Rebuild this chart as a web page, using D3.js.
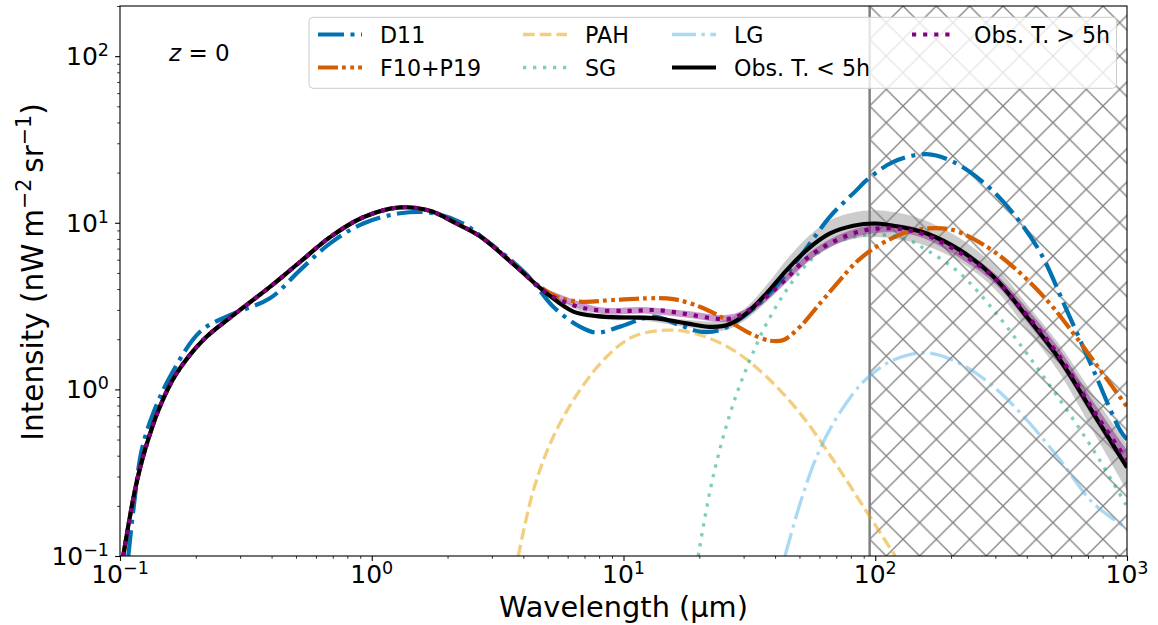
<!DOCTYPE html>
<html><head><meta charset="utf-8">
<script src="https://cdn.jsdelivr.net/npm/d3@7"></script>
<style>body{margin:0;background:#fff}svg{display:block}text{font-family:"DejaVu Sans",sans-serif;fill:#000}</style>
</head><body><svg id="chart" width="1158" height="625"></svg>
<script>
// ---------------- data ----------------
const obsLowWl  = [0.103,0.1147,0.1257,0.144,0.168,0.214,0.282,0.394,0.519,0.683,0.925,1.294,1.70,2.17,2.69,3.65,4.95,6.32,7.83,10.6,13.6,17.8,22.7,26.5,30.8,37.0,44.5,53.4,66.1,81.8,100,128,160,217,295,400,542,735,1000];
const obsLowVal = [0.1,0.249,0.433,0.787,1.25,1.98,2.79,4.12,5.82,8.2,10.8,12.36,11.8,9.9,8.3,5.65,3.77,2.93,2.75,2.70,2.67,2.49,2.37,2.47,2.86,3.77,5.2,6.86,8.63,9.6,9.9,9.4,8.63,6.86,4.74,2.73,1.5,0.718,0.34];
const obsHighWl  = [0.103,0.1147,0.1257,0.144,0.168,0.214,0.282,0.394,0.519,0.683,0.925,1.294,1.70,2.17,2.69,3.65,4.95,6.32,7.83,10.6,13.6,17.8,22.7,26.5,30.8,37.0,44.5,53.4,66.1,81.8,100,128,160,217,295,400,542,735,1000];
const obsHighVal = [0.1,0.249,0.433,0.787,1.25,1.98,2.79,4.12,5.82,8.2,10.8,12.36,11.8,9.9,8.3,5.65,3.8,3.2,2.99,2.96,2.99,2.83,2.67,2.66,2.93,3.6,4.64,6.11,7.52,8.63,9.2,9.15,8.4,6.6,4.7,2.8,1.56,0.75,0.375];
const bandWl      = [5,8,12,18,25,30,37,45,55,67,82,100,130,160,220,300,400,540,735,1000];
const obsLowBandLo  = [3.68,2.675,2.59,2.357,2.257,2.565,3.36,4.565,5.97,7.24,7.99,8.24,7.82,7.26,5.77,3.96,2.30,1.25,0.557,0.246];
const obsLowBandHi  = [3.82,2.827,2.79,2.609,2.594,3.014,4.23,6.153,8.44,10.46,11.54,11.9,11.3,10.26,7.97,5.46,3.25,1.85,0.925,0.469];
const obsHighBandLo = [3.63,2.85,2.85,2.69,2.54,2.72,3.40,4.46,5.95,7.18,8.15,8.69,8.64,7.93,6.06,4.29,2.55,1.42,0.668,0.327];
const obsHighBandHi = [3.98,3.12,3.12,2.95,2.79,2.98,3.81,5.00,6.67,8.05,9.14,9.74,9.69,8.90,6.97,4.93,3.07,1.74,0.842,0.43];
const d11Wl  = [0.1079,0.113,0.122,0.1355,0.158,0.208,0.273,0.394,0.519,0.683,0.925,1.294,1.70,2.31,2.8,3.6,4.26,5.26,6.71,7.83,9.69,13.1,16.7,20.1,24.1,29.9,37,50.3,66.1,84.3,92.4,118,160,204,277,353,451,576,735,938,1000];
const d11Val = [0.1,0.189,0.433,0.718,1.19,2.22,2.79,3.52,5.2,7.52,9.9,11.4,11.5,9.9,8.0,5.9,4.64,3.13,2.38,2.19,2.38,2.73,2.43,2.22,2.27,2.73,3.6,6.25,10.9,15.7,18.0,23.2,25.8,23.2,16.8,11.4,6.7,2.99,1.31,0.57,0.5];
const f10Wl  = [0.103,0.1147,0.1257,0.144,0.168,0.214,0.282,0.394,0.519,0.683,0.925,1.294,1.70,2.17,2.69,3.65,4.5,5.43,6.71,9.12,12.4,15.8,20.1,25.7,31.8,38.2,43.2,50.3,60.3,72.4,84.3,101,129,160,204,277,353,480,612,782,1000];
const f10Val = [0.1,0.249,0.433,0.787,1.25,1.98,2.79,4.12,5.82,8.2,10.8,12.36,11.8,9.9,8.3,5.7,4.3,3.6,3.36,3.44,3.52,3.48,3.13,2.61,2.17,1.96,1.98,2.38,3.28,4.53,5.83,7.18,8.63,9.25,9.04,7.18,5.44,3.44,2.17,1.31,0.787];
const pahWl  = [3.82,4.39,5.26,6.71,8.57,10.9,14.9,19.5,27.3,37,50.3,68.1,89.7,120];
const pahVal = [0.1,0.249,0.52,0.99,1.57,2.07,2.27,2.15,1.72,1.19,0.718,0.377,0.198,0.1];
const sgWl  = [19.8,22.1,24.9,28.2,31.8,35.9,41.9,50.3,64.1,81.8,98,129,160,217,295,400,542,735,1000];
const sgVal = [0.1,0.249,0.52,0.946,1.5,2.27,3.44,5.08,7.18,8.24,8.5,8.1,6.86,4.97,2.99,1.64,0.863,0.433,0.198];
const lgWl  = [43.8,50.3,58.5,68.1,81.8,92.4,118,160,217,295,400,542,735,1000];
const lgVal = [0.1,0.207,0.394,0.625,0.946,1.16,1.5,1.66,1.43,1.04,0.655,0.377,0.207,0.147];
const hatchRange = [95, 1000];
const xMajor = [0.1, 1, 10, 100, 1000];
const xMajorExp = ["\u22121", "0", "1", "2", "3"];
const yMajor = [0.1, 1, 10, 100];
const yMajorExp = ["\u22121", "0", "1", "2"];
const legendLabels = ["D11", "F10+P19", "PAH", "SG", "LG", "Obs. T. < 5h", "Obs. T. > 5h"];

// ---------------- layout ----------------
const svg = d3.select("#chart");
const L = 120, R = 1127, T = 6, B = 556;
const x = d3.scaleLog().domain([0.1, 1000]).range([L, R]);
const y = d3.scaleLog().domain([0.1, 200]).range([B, T]);
const zip = (a, b) => a.map((v, i) => [v, b[i]]);

const defs = svg.append("defs");
defs.append("clipPath").attr("id", "clip").append("rect")
  .attr("x", L).attr("y", T).attr("width", R - L).attr("height", B - T);
const hd = 33.33;
const pat = defs.append("pattern").attr("id", "hatch").attr("patternUnits", "userSpaceOnUse")
  .attr("width", hd).attr("height", hd).attr("x", x(hatchRange[0])).attr("y", T);
pat.append("path").attr("d", `M-2,-2L${hd+2},${hd+2}M${hd+2},-2L-2,${hd+2}`)
  .attr("stroke", "#808080").attr("stroke-width", 1.3).attr("fill", "none");

const plot = svg.append("g").attr("clip-path", "url(#clip)");

// hatched region
plot.append("rect").attr("x", x(hatchRange[0])).attr("y", T)
  .attr("width", x(hatchRange[1]) - x(hatchRange[0])).attr("height", B - T)
  .attr("fill", "url(#hatch)");
plot.append("line").attr("x1", x(hatchRange[0])).attr("x2", x(hatchRange[0]))
  .attr("y1", T).attr("y2", B).attr("stroke", "#808080").attr("stroke-width", 2.5);

// bands
const area = d3.area().x(d => x(d[0])).y0(d => y(d[1])).y1(d => y(d[2])).curve(d3.curveCatmullRom.alpha(0.5));
plot.append("path").datum(bandWl.map((w, i) => [w, obsLowBandLo[i], obsLowBandHi[i]]))
  .attr("d", area).attr("fill", "#808080").attr("fill-opacity", 0.4);
plot.append("path").datum(bandWl.map((w, i) => [w, obsHighBandLo[i], obsHighBandHi[i]]))
  .attr("d", area).attr("fill", "#800080").attr("fill-opacity", 0.4);

// series styles
const series = [
  {key: "D11",  wl: d11Wl, val: d11Val, color: "#0072B2", op: 1, w: 4.2, dash: "26,6.5,4,6.5"},
  {key: "F10+P19", wl: f10Wl, val: f10Val, color: "#D55E00", op: 1, w: 4.2, dash: "20,4,3.8,4.5,3.8,4"},
  {key: "PAH", wl: pahWl, val: pahVal, color: "#E69F00", op: 0.5, w: 3.3, dash: "11.7,5"},
  {key: "SG",  wl: sgWl,  val: sgVal,  color: "#009E73", op: 0.5, w: 3.3, dash: "3.3,6.7"},
  {key: "LG",  wl: lgWl,  val: lgVal,  color: "#56B4E9", op: 0.5, w: 3.3, dash: "24,5.5,3.3,5.5"},
  {key: "Obs. T. < 5h", wl: obsLowWl, val: obsLowVal, color: "#000000", op: 1, w: 4.2, dash: null},
  {key: "Obs. T. > 5h", wl: obsHighWl, val: obsHighVal, color: "#800080", op: 1, w: 4.2, dash: "4.2,6.9"}
];
const line = d3.line().x(d => x(d[0])).y(d => y(d[1])).curve(d3.curveCatmullRom.alpha(0.5));
series.forEach(s => {
  plot.append("path").datum(zip(s.wl, s.val)).attr("d", line)
    .attr("fill", "none").attr("stroke", s.color).attr("stroke-opacity", s.op)
    .attr("stroke-width", s.w).attr("stroke-dasharray", s.dash);
});

// axes
const ax = svg.append("g");
const xMinor = [], yMinor = [];
[0.1, 1, 10, 100].forEach(b => { for (let k = 2; k <= 9; k++) xMinor.push(b * k); });
[0.1, 1, 10, 100].forEach(b => { for (let k = 2; k <= 9; k++) if (b * k <= 200) yMinor.push(b * k); });
const tickStyle = (g, w) => { g.select(".domain").remove(); g.selectAll("line").attr("stroke", "#000").attr("stroke-width", w); };
ax.append("g").attr("transform", `translate(0,${B})`)
  .call(d3.axisBottom(x).tickValues(xMajor).tickSize(4.9).tickFormat(""))
  .call(g => tickStyle(g, 1.1));
ax.append("g").attr("transform", `translate(0,${B})`)
  .call(d3.axisBottom(x).tickValues(xMinor).tickSize(2.8).tickFormat(""))
  .call(g => tickStyle(g, 0.8));
ax.append("g").attr("transform", `translate(${L},0)`)
  .call(d3.axisLeft(y).tickValues(yMajor).tickSize(4.9).tickFormat(""))
  .call(g => tickStyle(g, 1.1));
ax.append("g").attr("transform", `translate(${L},0)`)
  .call(d3.axisLeft(y).tickValues(yMinor).tickSize(2.8).tickFormat(""))
  .call(g => tickStyle(g, 0.8));

// tick labels
xMajor.forEach((v, i) => {
  const t = ax.append("text").attr("x", x(v)).attr("y", 583).attr("text-anchor", "middle").attr("font-size", 25);
  t.append("tspan").text("10");
  t.append("tspan").attr("dy", -9).attr("font-size", 17.5).text(xMajorExp[i]);
});
yMajor.forEach((v, i) => {
  const t = ax.append("text").attr("x", 109).attr("y", y(v) + 9).attr("text-anchor", "end").attr("font-size", 25);
  t.append("tspan").text("10");
  t.append("tspan").attr("dy", -9).attr("font-size", 17.5).text(yMajorExp[i]);
});

// axis titles
svg.append("text").attr("x", (L + R) / 2).attr("y", 617).attr("text-anchor", "middle")
  .attr("font-size", 28.8).text("Wavelength (\u00b5m)");
const yl = svg.append("text").attr("transform", "translate(43,272) rotate(-90)")
  .attr("text-anchor", "middle").attr("font-size", 29.5);
yl.append("tspan").text("Intensity (nW\u2009m");
yl.append("tspan").attr("dy", -12).attr("font-size", 20.6).text("\u22122");
yl.append("tspan").attr("dy", 12).text("\u2009sr");
yl.append("tspan").attr("dy", -12).attr("font-size", 20.6).text("\u22121");
yl.append("tspan").attr("dy", 12).text(")");

// z = 0 annotation
const zt = svg.append("text").attr("x", 169).attr("y", 61).attr("font-size", 23);
zt.append("tspan").attr("font-style", "italic").text("z");
zt.append("tspan").text(" = 0");

// frame
svg.append("rect").attr("x", L).attr("y", T).attr("width", R - L).attr("height", B - T)
  .attr("fill", "none").attr("stroke", "#000").attr("stroke-width", 1.1);

// legend
const lg = svg.append("g");
lg.append("rect").attr("x", 309).attr("y", 17.3).attr("width", 807.5).attr("height", 71).attr("rx", 4)
  .attr("fill", "#fff").attr("fill-opacity", 0.8).attr("stroke", "#cccccc").attr("stroke-width", 1);
const colX = [318, 523, 672, 912];
const rowY = [34.5, 67.5];
const slots = [[0,0],[0,1],[1,0],[1,1],[2,0],[2,1],[3,0]];
series.forEach((s, i) => {
  const [c, r] = slots[i];
  const hx = colX[c], hy = rowY[r];
  lg.append("line").attr("x1", hx).attr("x2", hx + 44).attr("y1", hy).attr("y2", hy)
    .attr("stroke", s.color).attr("stroke-opacity", s.op).attr("stroke-width", s.w)
    .attr("stroke-dasharray", s.dash);
  lg.append("text").attr("x", hx + 62).attr("y", hy + 8.5).attr("font-size", 22.2).text(legendLabels[i]);
});
</script></body></html>
